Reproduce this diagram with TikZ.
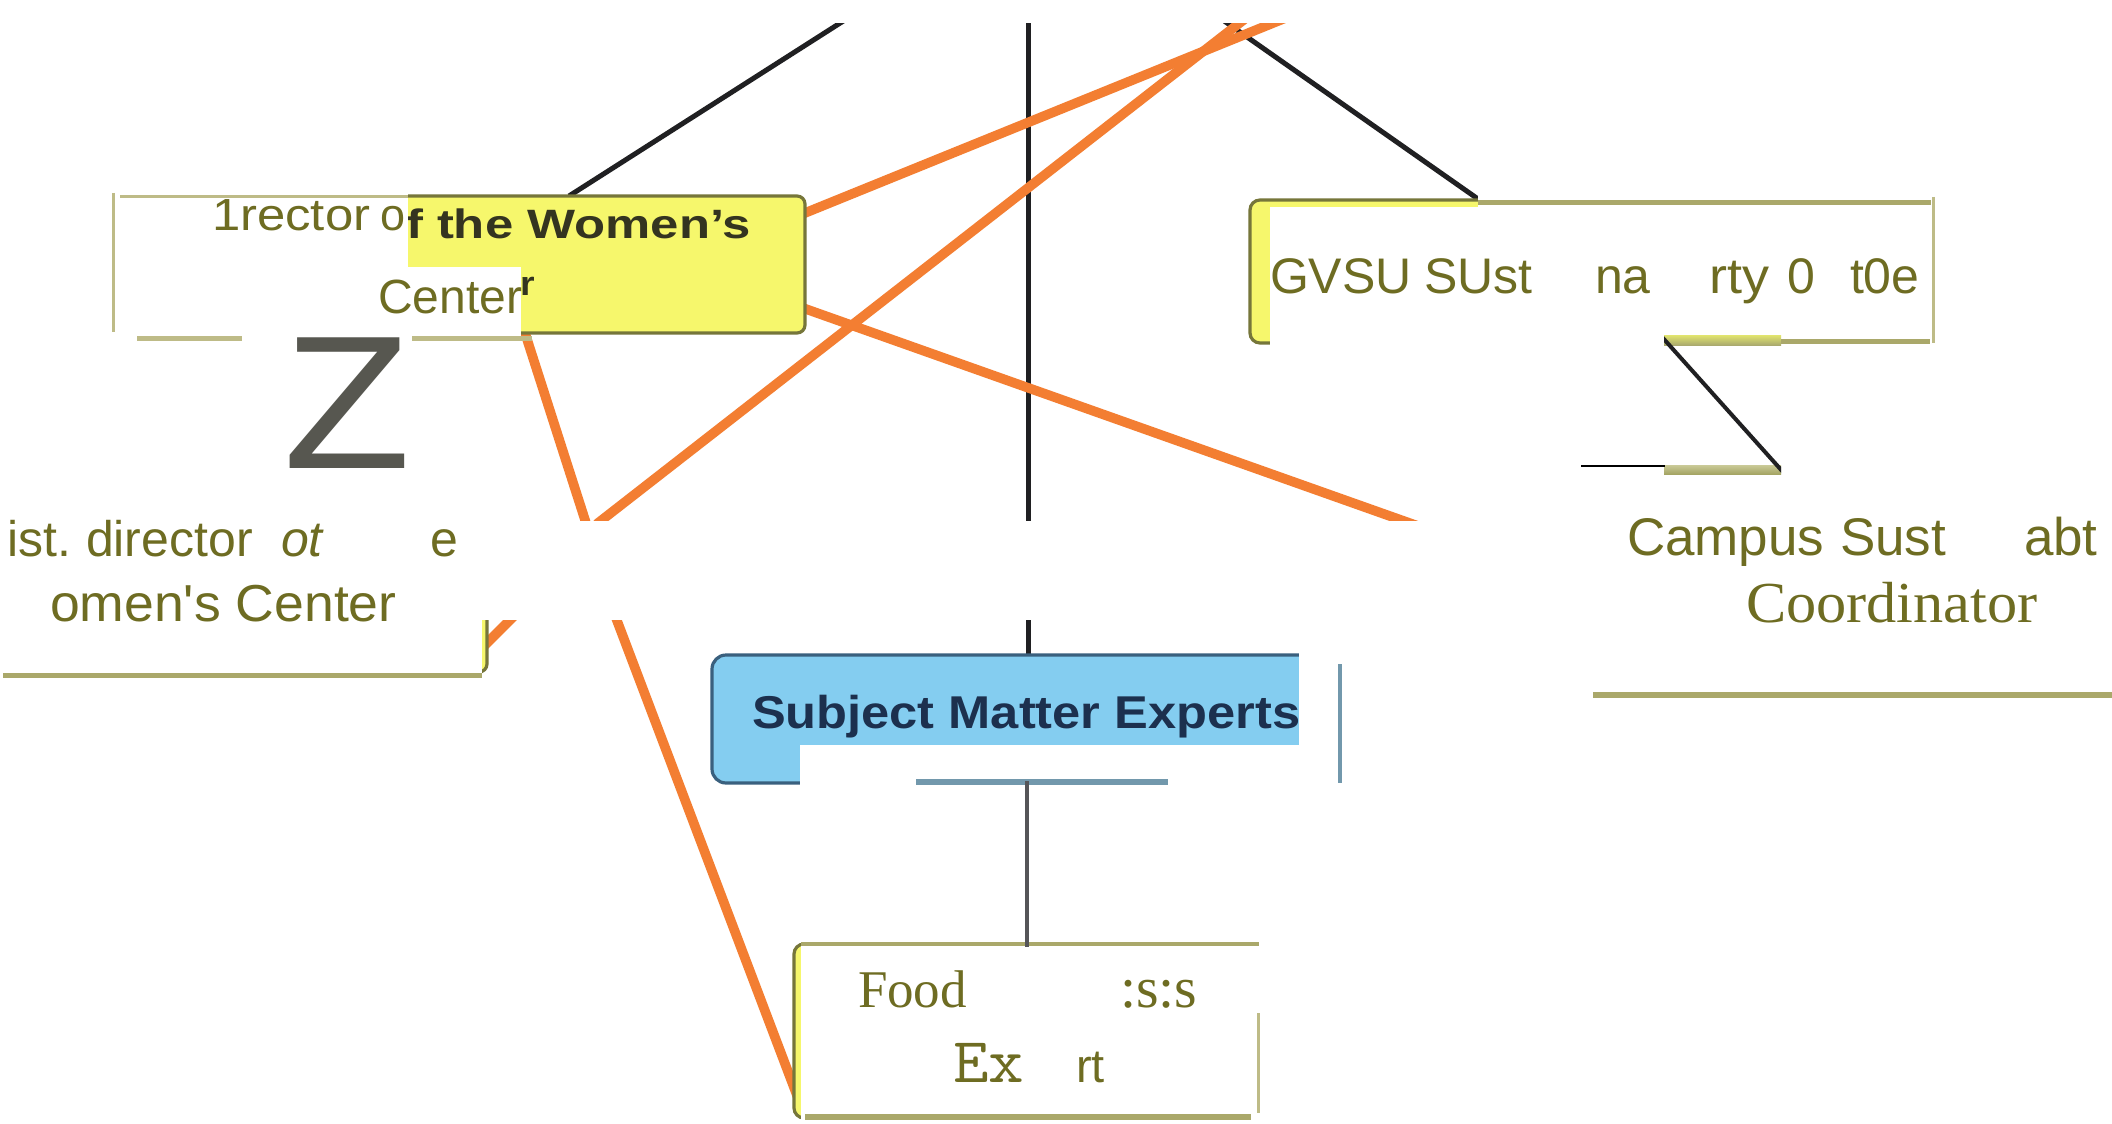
\documentclass[tikz,border=0pt]{standalone}
\usepackage{graphicx}
\usepackage{fontspec}
\newfontfamily\osans{Liberation Sans}[Ligatures=TeXOff]
\newfontfamily\oserif{Liberation Serif}
\newcommand\setfs[1]{\fontsize{#1}{#1}\selectfont}

\definecolor{rblack}{RGB}{32,32,34}
\definecolor{rorange}{RGB}{243,126,50}
\definecolor{ryellow}{RGB}{246,247,108}
\definecolor{ryelborder}{RGB}{118,118,58}
\definecolor{rdark}{RGB}{52,52,32}
\definecolor{rblue}{RGB}{132,205,240}
\definecolor{rblueborder}{RGB}{58,96,126}
\definecolor{rnavy}{RGB}{28,48,78}
\definecolor{oltext}{RGB}{110,108,34}
\definecolor{olrule}{RGB}{170,168,106}
\definecolor{olrulelight}{RGB}{190,187,135}
\definecolor{steel}{RGB}{114,152,172}
\definecolor{zgray}{RGB}{87,87,80}
\definecolor{linkgray}{RGB}{85,85,88}
\definecolor{bandyel}{RGB}{226,229,110}
\definecolor{bandolive}{RGB}{170,170,110}
\definecolor{bandlight}{RGB}{202,202,152}
\definecolor{banddeep}{RGB}{165,165,100}

\begin{document}
\begin{tikzpicture}[x=0.5pt,y=-0.5pt,
  rasterline/.style={draw=rblack,line width=2.5pt},
  orangeline/.style={draw=rorange,line width=4.8pt},
  rasterbox/.style={fill=ryellow,draw=ryelborder,line width=1.6pt,rounded corners=4pt},
  wpatch/.style={fill=white},
  rule/.style={draw=olrule,line width=2.5pt},
  lightrule/.style={draw=olrulelight,line width=1.5pt},
  steelrule/.style={draw=steel,line width=#1},
  tx/.style={anchor=base west,inner sep=0pt,outer sep=0pt},
  oltx/.style={tx,text=oltext},
]
\fill[white] (0,0) rectangle (2112,1123);
\useasboundingbox (0,0) rectangle (2112,1123);

% ---------- end points of the connectors ----------
\coordinate (hubL) at (870,4);
\coordinate (hubC) at (1028,4);
\coordinate (hubR) at (1200,4);
\coordinate (dirTop) at (569,196);
\coordinate (smeTop) at (1028,656);
\coordinate (gvsuTop) at (1478,199);
\coordinate (dirRightA) at (800,215);
\coordinate (hubO1) at (1320,4);
\coordinate (hubO2) at (1264,4);
\coordinate (asstCorner) at (470,660);
\coordinate (dirRightB) at (803,308);
\coordinate (campusIn) at (1480,548);
\coordinate (dirBottom) at (525,333);
\coordinate (foodLeft) at (798,1098);

% ---------- connectors of the concept map ----------
\draw[rasterline] (hubL) -- (dirTop);
\draw[rasterline] (hubC) -- (smeTop);
\draw[rasterline] (hubR) -- (gvsuTop);
\draw[orangeline] (dirRightA) -- (hubO1);
\draw[orangeline] (asstCorner) -- (520,610) -- (598,523) -- (hubO2);
\draw[orangeline] (dirRightB) -- (campusIn);
\draw[orangeline] (dirBottom) -- (586,523) -- (616,618) -- (foodLeft);

% ---------- concept boxes ----------
\draw[rasterbox] (300,196) rectangle (805,333);
\node[tx,text=rdark,font=\osans\bfseries\setfs{20.5}] (dirL1) at (406,238) {\scalebox{1.24}[1]{f the Women’s}};
\node[tx,text=rdark,font=\osans\bfseries\setfs{17}] (dirL2) at (520,295) {\scalebox{1.1}[1]{r}};
\draw[rasterbox,rounded corners=5pt] (1250,200) rectangle (2000,343);
\draw[rasterbox] (150,560) rectangle (487,672);
\draw[fill=rblue,draw=rblueborder,line width=1.6pt,rounded corners=7pt] (712,655) rectangle (1330,783);
\node[tx,text=rnavy,font=\osans\bfseries\setfs{23}] (smeText) at (752,728) {\scalebox{1.1}[1]{Subject Matter Experts}};
\draw[rasterbox,rounded corners=5pt] (794,944) rectangle (1300,1118);

% ---------- white label panels ----------
\fill[wpatch] (0,0) rectangle (2112,23);
\fill[wpatch] (0,521) rectangle (2112,620);
\fill[wpatch] (100,186) rectangle (408,336);
\fill[wpatch] (408,267) rectangle (521,336);
\fill[wpatch] (0,336) rectangle (482,680);
\fill[wpatch] (1270,207) rectangle (2112,346);
\fill[wpatch] (1478,180) rectangle (2112,207);
\fill[wpatch] (800,745) rectangle (1345,790);
\fill[wpatch] (1299,640) rectangle (1345,790);
\fill[wpatch] (801,790) rectangle (1312,1123);

% ---------- link between the two right-hand concepts ----------
\coordinate (pieceA) at (1662,337);
\coordinate (pieceB) at (1783,472);
\begin{scope}
  \clip (1664,335) rectangle (1781,474);
  \shade[top color=bandyel,bottom color=bandolive] (1664,335) rectangle (1781,345);
  \shade[top color=bandlight,bottom color=banddeep] (1664,465) rectangle (1781,474);
  \draw[draw=rblack,line width=2pt] (pieceA) -- (pieceB);
\end{scope}
\coordinate (tickL) at (1581,466);
\coordinate (tickR) at (1665,466);
\draw[black,line width=1.2pt] (tickL) -- (tickR);

% ---------- frame rules of the label panels ----------
\draw[lightrule] (120,197) -- (408,197);
\draw[lightrule] (113,193) -- (113,332);
\draw[rule,draw=olrulelight] (137,338) -- (242,338);
\draw[rule,draw=olrulelight] (412,338) -- (532,338);
\draw[rule] (1478,203) -- (1931,203);
\draw[lightrule] (1933,197) -- (1933,343);
\draw[rule] (1781,341) -- (1930,341);
\draw[rule,line width=3pt] (1593,695) -- (2112,695);
\draw[rule] (3,675) -- (482,675);
\draw[rule,line width=2pt] (801,944) -- (1259,944);
\draw[lightrule] (1258,1013) -- (1258,1113);
\draw[rule,line width=3pt] (805,1117) -- (1251,1117);
\draw[steelrule=3pt] (916,782) -- (1168,782);
\draw[steelrule=2pt] (1340,664) -- (1340,783);
\coordinate (smeBottom) at (1027,781);
\coordinate (foodTop) at (1027,947);
\draw[linkgray,line width=2pt] (smeBottom) -- (foodTop);

% ---------- label texts ----------
\node[oltx,font=\osans\setfs{22.5}] (d1) at (212,230) {\scalebox{1.13}[1]{1rector}};
\node[oltx,font=\osans\setfs{22.5}] (d2) at (380,230) {o};
\node[oltx,font=\osans\setfs{24}] (d3) at (378,313) {Center};
\node[tx,text=zgray,font=\osans\setfs{95}] (bigZ) at (283,468) {\scalebox{1.1}[1]{Z}};

\node[oltx,font=\osans\setfs{25}] (a1) at (7,556) {ist.};
\node[oltx,font=\osans\setfs{25}] (a2) at (86,556) {director};
\node[oltx,font=\osans\itshape\setfs{25}] (a3) at (281,556) {ot};
\node[oltx,font=\osans\setfs{25}] (a4) at (430,556) {e};
\node[oltx,font=\osans\setfs{26}] (a5) at (50,621) {\scalebox{1.03}[1]{omen's Center}};

\node[oltx,font=\osans\setfs{25}] (g1) at (1270,293) {GVSU};
\node[oltx,font=\osans\setfs{25}] (g2) at (1424,293) {SUst};
\node[oltx,font=\osans\setfs{25}] (g3) at (1595,293) {na};
\node[oltx,font=\osans\setfs{25}] (g4) at (1709,293) {\scalebox{1.08}[1]{rty}};
\node[oltx,font=\osans\setfs{25}] (g5) at (1787,293) {0};
\node[oltx,font=\osans\setfs{25}] (g6) at (1850,293) {t0e};

\node[oltx,font=\osans\setfs{26.5}] (c1) at (1627,555) {Campus};
\node[oltx,font=\osans\setfs{26.5}] (c2) at (1840,555) {Sust};
\node[oltx,font=\osans\setfs{26.5}] (c3) at (2024,555) {abt};
\node[oltx,font=\oserif\setfs{29}] (c4) at (1746,622) {\scalebox{1.04}[1]{Coordinator}};

\node[oltx,font=\oserif\setfs{26.5}] (f1) at (858,1007) {Food};
\node[oltx,font=\oserif\setfs{29}] (f2) at (1120,1007) {:s:s};
\node[oltx,font=\ttfamily\setfs{32}] (f3) at (953,1082) {\scalebox{1.08}[1]{Ex}};
\node[oltx,font=\osans\setfs{23.5}] (f4) at (1076,1082) {rt};
\end{tikzpicture}
\end{document}
